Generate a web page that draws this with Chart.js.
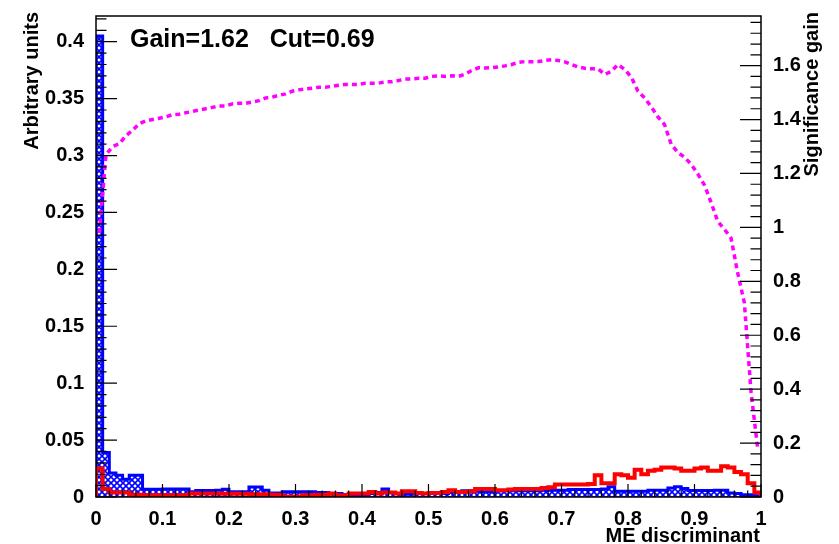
<!DOCTYPE html>
<html>
<head>
<meta charset="utf-8">
<script src="https://cdn.jsdelivr.net/npm/chart.js@4.4.1/dist/chart.umd.min.js"></script>
<style>
    body { margin: 0; background: #fff; }
</style>
</head>
<body>
<canvas id="chart-me" width="839" height="544"></canvas>
<script>
// 100 bins from 0 to 1
const binWidth = 0.01;

// blue histogram (hatched)
const blueHist = [
    0.405, 0.039, 0.021, 0.019, 0.0156, 0.019, 0.019, 0.0067, 0.0067, 0.0067,
    0.007, 0.007, 0.007, 0.007, 0.0046, 0.0058, 0.0058, 0.0058, 0.006, 0.0067,
    0.0046, 0.0046, 0.0046, 0.0087, 0.0087, 0.006, 0.0035, 0.0035, 0.0046, 0.0046,
    0.0046, 0.0046, 0.0046, 0.004, 0.004, 0.003, 0.003, 0.002, 0.001, 0.001,
    0.002, 0.003, 0.004, 0.007, 0.004, 0.003, 0.0025, 0.0025, 0.003, 0.003,
    0.003, 0.004, 0.003, 0.004, 0.004, 0.0055, 0.0055, 0.005, 0.0046, 0.0046,
    0.0055, 0.0055, 0.0055, 0.0055, 0.0055, 0.0055, 0.0055, 0.006, 0.006, 0.006,
    0.006, 0.0065, 0.0065, 0.0065, 0.0065, 0.0065, 0.007, 0.009, 0.005, 0.005,
    0.005, 0.005, 0.005, 0.006, 0.006, 0.006, 0.008, 0.009, 0.0075, 0.0058,
    0.0058, 0.0058, 0.0058, 0.006, 0.006, 0.0035, 0.003, 0.002, 0.002, 0.001
];

// red histogram (line only)
const redHist = [
    0.025, 0.007, 0.004, 0.004, 0.004, 0.002, 0.002, 0.0015, 0.0015, 0.0015,
    0.0015, 0.0015, 0.0015, 0.0015, 0.003, 0.003, 0.003, 0.003, 0.003, 0.0028,
    0.0028, 0.0028, 0.0028, 0.0025, 0.0025, 0.0025, 0.002, 0.002, 0.0005, 0.0005,
    0.0005, 0.0015, 0.0015, 0.002, 0.002, 0.003, 0.0015, 0.0015, 0.003, 0.003,
    0.003, 0.0043, 0.003, 0.004, 0.004, 0.003, 0.005, 0.005, 0.0035, 0.003,
    0.0035, 0.0035, 0.0045, 0.006, 0.0045, 0.0045, 0.005, 0.007, 0.007, 0.007,
    0.006, 0.006, 0.0065, 0.007, 0.007, 0.007, 0.007, 0.008, 0.0085, 0.011,
    0.011, 0.011, 0.011, 0.011, 0.0115, 0.019, 0.012, 0.012, 0.02, 0.019,
    0.017, 0.024, 0.02, 0.023, 0.024, 0.026, 0.026, 0.025, 0.023, 0.023,
    0.025, 0.026, 0.023, 0.023, 0.027, 0.026, 0.022, 0.02, 0.012, 0.004
];

// significance gain (right axis), one value per bin
const gainCurve = [
    0.98, 1.27, 1.30, 1.31, 1.34, 1.36, 1.385, 1.395, 1.40, 1.405,
    1.41, 1.418, 1.42, 1.425, 1.43, 1.435, 1.44, 1.445, 1.45, 1.45,
    1.458, 1.46, 1.46, 1.465, 1.47, 1.48, 1.483, 1.49, 1.495, 1.505,
    1.51, 1.513, 1.516, 1.52, 1.52, 1.523, 1.527, 1.53, 1.53, 1.53,
    1.535, 1.535, 1.535, 1.54, 1.54, 1.545, 1.55, 1.55, 1.553, 1.553,
    1.56, 1.562, 1.56, 1.562, 1.56, 1.568, 1.582, 1.592, 1.591, 1.592,
    1.595, 1.599, 1.604, 1.612, 1.615, 1.614, 1.615, 1.619, 1.622, 1.619,
    1.614, 1.604, 1.595, 1.59, 1.588, 1.588, 1.567, 1.579, 1.604, 1.586,
    1.557, 1.505, 1.48, 1.447, 1.41, 1.381, 1.308, 1.278, 1.26, 1.234,
    1.198, 1.157, 1.092, 1.022, 0.993, 0.96, 0.83, 0.72, 0.39, 0.18
];

const xTicks = [0, 0.1, 0.2, 0.3, 0.4, 0.5, 0.6, 0.7, 0.8, 0.9, 1];
const yTicks = [0, 0.05, 0.1, 0.15, 0.2, 0.25, 0.3, 0.35, 0.4];
const y2Ticks = [0, 0.2, 0.4, 0.6, 0.8, 1, 1.2, 1.4, 1.6];

function histPoints(vals) {
    const pts = [{ x: 0, y: 0 }];
    vals.forEach((v, i) => pts.push({ x: i * binWidth, y: v }));
    pts.push({ x: vals.length * binWidth, y: vals[vals.length - 1] });
    pts.push({ x: vals.length * binWidth, y: 0 });
    return pts;
}

const canvas = document.getElementById('chart-me');
const ctx = canvas.getContext('2d');

// blue hatch like the ROOT fill style
const tile = document.createElement('canvas');
tile.width = 6; tile.height = 6;
const tg = tile.getContext('2d');
tg.fillStyle = '#ffffff';
tg.fillRect(0, 0, 6, 6);
tg.strokeStyle = '#0000ff';
tg.lineWidth = 1.6;
tg.beginPath();
tg.moveTo(0, 0); tg.lineTo(6, 6);
tg.moveTo(6, 0); tg.lineTo(0, 6);
tg.stroke();
const hatch = ctx.createPattern(tile, 'repeat');

const tickFont = { family: 'Liberation Sans, Arial, sans-serif', size: 20, weight: 'bold' };

// ROOT style frame, inner ticks and axis titles
const rootAxes = {
    id: 'rootAxes',
    afterDatasetsDraw(chart) {
        const { ctx, chartArea: a, scales } = chart;
        ctx.save();
        ctx.strokeStyle = '#000';
        ctx.lineWidth = 1.5;
        ctx.strokeRect(a.left, a.top, a.right - a.left, a.bottom - a.top);

        ctx.lineWidth = 1.2;
        ctx.beginPath();
        for (let k = 0; k <= 50; k++) {
            const px = scales.x.getPixelForValue(k * 0.02);
            const len = k % 5 === 0 ? 13 : 6.5;
            ctx.moveTo(px, a.bottom);
            ctx.lineTo(px, a.bottom - len);
        }
        for (let k = 0; k * 0.01 <= scales.y.max; k++) {
            const py = scales.y.getPixelForValue(k * 0.01);
            const len = k % 5 === 0 ? 21 : 10.5;
            ctx.moveTo(a.left, py);
            ctx.lineTo(a.left + len, py);
        }
        for (let k = 0; k * 0.04 <= scales.y2.max; k++) {
            const py = scales.y2.getPixelForValue(k * 0.04);
            const len = k % 5 === 0 ? 21 : 10.5;
            ctx.moveTo(a.right, py);
            ctx.lineTo(a.right - len, py);
        }
        ctx.stroke();

        ctx.fillStyle = '#000';
        ctx.font = 'bold 20px "Liberation Sans", Arial, sans-serif';
        ctx.textBaseline = 'alphabetic';
        ctx.textAlign = 'right';

        ctx.save();
        ctx.translate(38, 12);
        ctx.rotate(-Math.PI / 2);
        ctx.fillText('Arbitrary units', 0, 0);
        ctx.restore();

        ctx.save();
        ctx.translate(818, 12);
        ctx.rotate(-Math.PI / 2);
        ctx.fillText('Significance gain', 0, 0);
        ctx.restore();

        ctx.fillText('ME discriminant', 760, 541.5);

        ctx.textAlign = 'left';
        ctx.font = 'bold 25px "Liberation Sans", Arial, sans-serif';
        ctx.fillText('Gain=1.62   Cut=0.69', 130, 46.5);
        ctx.restore();
    }
};

new Chart(canvas, {
    type: 'line',
    data: {
        datasets: [{
            label: 'Significance gain',
            data: gainCurve.map((v, i) => ({ x: (i + 0.5) * binWidth, y: v })),
            yAxisID: 'y2',
            borderColor: '#ff00ff',
            borderWidth: 3.5,
            borderDash: [5, 4],
            pointRadius: 0,
            fill: false
        }, {
            label: 'red',
            data: histPoints(redHist),
            yAxisID: 'y',
            stepped: 'before',
            borderColor: '#ff0000',
            borderWidth: 4,
            pointRadius: 0,
            fill: false
        }, {
            label: 'blue',
            data: histPoints(blueHist),
            yAxisID: 'y',
            stepped: 'before',
            borderColor: '#0000ff',
            backgroundColor: hatch,
            borderWidth: 3,
            pointRadius: 0,
            fill: 'origin'
        }]
    },
    options: {
        responsive: false,
        animation: false,
        devicePixelRatio: 1,
        events: [],
        layout: { padding: { top: 10, left: 0, right: 0, bottom: 0 } },
        plugins: {
            legend: { display: false },
            tooltip: { enabled: false }
        },
        scales: {
            x: {
                type: 'linear',
                position: 'bottom',
                min: 0,
                max: 1,
                grid: { display: false },
                border: { display: false },
                afterBuildTicks: s => { s.ticks = xTicks.map(v => ({ value: v })); },
                afterFit: s => { s.height = 47; },
                ticks: {
                    color: '#000',
                    font: tickFont,
                    padding: 2,
                    maxRotation: 0,
                    autoSkip: false,
                    callback: v => String(v)
                }
            },
            y: {
                type: 'linear',
                position: 'left',
                min: 0,
                max: 0.4226,
                grid: { display: false },
                border: { display: false },
                afterBuildTicks: s => { s.ticks = yTicks.map(v => ({ value: v })); },
                afterFit: s => { s.width = 96; },
                ticks: {
                    color: '#000',
                    font: tickFont,
                    padding: 4,
                    autoSkip: false,
                    callback: v => String(v)
                }
            },
            y2: {
                type: 'linear',
                position: 'right',
                min: 0,
                max: 1.784,
                grid: { display: false },
                border: { display: false },
                afterBuildTicks: s => { s.ticks = y2Ticks.map(v => ({ value: v })); },
                afterFit: s => { s.width = 78; },
                ticks: {
                    color: '#000',
                    font: tickFont,
                    padding: 4,
                    autoSkip: false,
                    callback: v => String(v)
                }
            }
        }
    },
    plugins: [rootAxes]
});
</script>
</body>
</html>
